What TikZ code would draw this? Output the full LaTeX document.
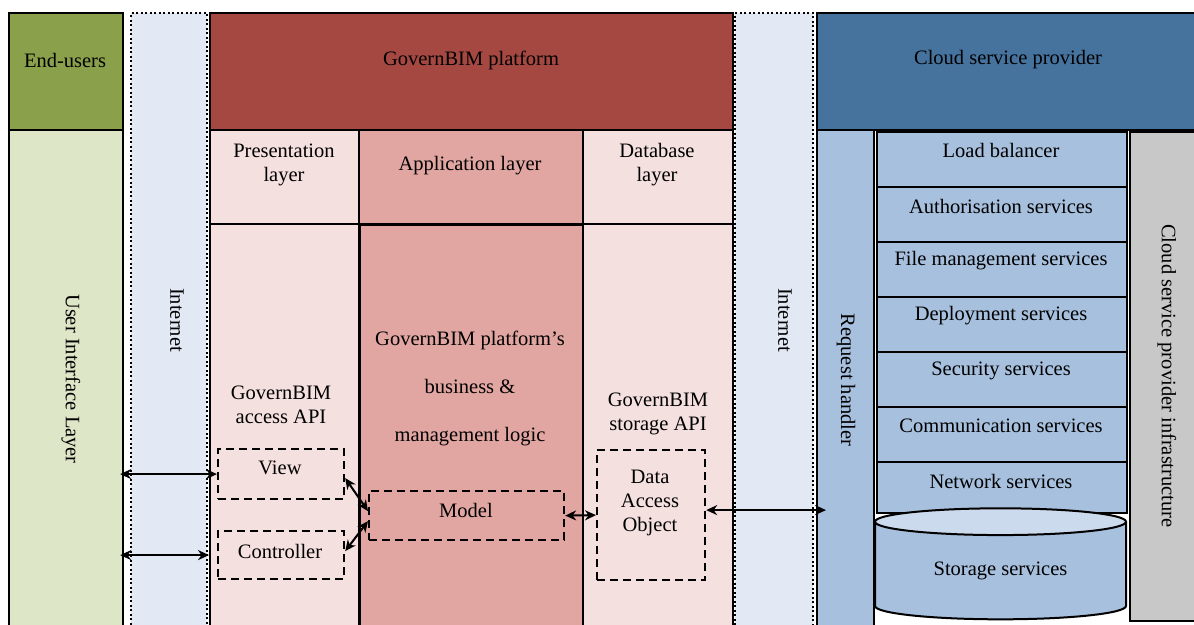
\documentclass[tikz,border=0pt]{standalone}
\usepackage{fontspec}
\setmainfont{Liberation Serif}
\usetikzlibrary{arrows.meta,shapes.geometric}

\definecolor{euGreen}{RGB}{139,160,75}
\definecolor{uiGreen}{RGB}{221,230,199}
\definecolor{netBlue}{RGB}{226,233,244}
\definecolor{platRed}{RGB}{165,72,66}
\definecolor{paleRed}{RGB}{244,224,223}
\definecolor{appRed}{RGB}{226,166,162}
\definecolor{cspBlue}{RGB}{70,114,158}
\definecolor{svcBlue}{RGB}{167,192,222}
\definecolor{svcLight}{RGB}{203,218,236}
\definecolor{infraGray}{RGB}{200,200,200}

\begin{document}
\begin{tikzpicture}[x=1pt,y=-1pt,
	blk/.style={draw, line width=2.2pt, anchor=north west, inner sep=0pt},
	net/.style={draw, line width=2pt, dash pattern=on 2pt off 2.5pt, anchor=north west, inner sep=0pt, fill=netBlue},
	dbox/.style={draw, line width=2.2pt, dash pattern=on 8pt off 5pt, anchor=north west, inner sep=0pt},
	lbl/.style={font=\fontsize{20.5}{24}\selectfont, align=center, inner sep=0pt},
	vlbl/.style={lbl, rotate=-90},
	biarrow/.style={{Stealth[length=11pt,width=10pt]}-{Stealth[length=11pt,width=10pt]}, line width=2pt}]

			\useasboundingbox (0,0) rectangle (1194,624);
			\clip (0,0) rectangle (1194,624);
			\fill[white] (0,0) rectangle (1194,624);

			% end-users side
			\draw (8,12) node [blk, fill=euGreen, minimum width=114, minimum height=117] (eu) {};
			\draw (8,129) node [blk, fill=uiGreen, minimum width=114, minimum height=505] (ui) {};
			\draw (130,12) node [net, minimum width=76, minimum height=620] (netL) {};

			% platform
			\draw (209,12) node [blk, fill=platRed, minimum width=523, minimum height=117] (plat) {};
			\draw (209,223) node [blk, fill=paleRed, minimum width=149, minimum height=410] (presB) {};
			\draw (358,223) node [blk, fill=appRed, line width=2.8pt, minimum width=224, minimum height=410] (appB) {};
			\draw (582,223) node [blk, fill=paleRed, minimum width=150, minimum height=410] (dbB) {};
			\draw (209,129) node [blk, fill=paleRed, minimum width=149, minimum height=94] (presH) {};
			\draw (358,129) node [blk, fill=appRed, minimum width=224, minimum height=94] (appH) {};
			\draw (582,129) node [blk, fill=paleRed, minimum width=150, minimum height=94] (dbH) {};
			\draw (734,12) node [net, minimum width=78, minimum height=620] (netR) {};

			% cloud side
			\draw (816,12) node [blk, fill=cspBlue, minimum width=390, minimum height=117] (csp) {};
			\draw (816,129) node [blk, fill=svcBlue, minimum width=57, minimum height=505] (rh) {};
			\draw (1129,131) node [blk, fill=infraGray, minimum width=75, minimum height=489] (infra) {};
			\draw (876,131) node [blk, fill=svcBlue, minimum width=250, minimum height=55] (lb) {};
			\draw (876,186) node [blk, fill=svcBlue, minimum width=250, minimum height=55] (auth) {};
			\draw (876,241) node [blk, fill=svcBlue, minimum width=250, minimum height=55] (fms) {};
			\draw (876,296) node [blk, fill=svcBlue, minimum width=250, minimum height=55] (dep) {};
			\draw (876,351) node [blk, fill=svcBlue, minimum width=250, minimum height=55] (sec) {};
			\draw (876,406) node [blk, fill=svcBlue, minimum width=250, minimum height=55] (comm) {};
			\draw (876,461) node [blk, fill=svcBlue, minimum width=250, minimum height=51] (nws) {};
			\draw (1000.5,571) node [cylinder, shape border rotate=90, aspect=0.2, draw, line width=2pt, cylinder uses custom fill, cylinder body fill=svcBlue, cylinder end fill=svcLight, minimum width=251, minimum height=111, inner sep=0pt, font=\fontsize{20.5}{24}\selectfont] (stor) {Storage services};

			% dashed components
			\draw (217,448) node [dbox, minimum width=126, minimum height=50] (view) {};
			\draw (217,530) node [dbox, minimum width=126, minimum height=48] (ctrl) {};
			\draw (368,490) node [dbox, minimum width=195, minimum height=49] (model) {};
			\draw (596,449) node [dbox, minimum width=108, minimum height=130] (dao) {};

			% labels
			\draw (65,60) node [lbl] (t-eu) {End-users};
			\draw (71,379) node [vlbl] (t-ui) {User Interface Layer};
			\draw (177,320) node [vlbl] (t-netL) {Internet};
			\draw (471,60) node [lbl] (t-plat) {GovernBIM platform};
			\draw (284,165) node [lbl] (t-presH) {Presentation\\layer};
			\draw (470,166) node [lbl] (t-appH) {Application layer};
			\draw (657,165) node [lbl] (t-dbH) {Database\\layer};
			\draw (281,405) node [lbl] (t-acc) {GovernBIM\\access API};
			\draw (470,388) node [lbl] (t-logic) {GovernBIM platform's\\[24pt]business \&\\[24pt]management logic};
			\draw (658,414) node [lbl] (t-sto) {GovernBIM\\storage API};
			\draw (280,468) node [lbl] (t-view) {View};
			\draw (280,551) node [lbl] (t-ctrl) {Controller};
			\draw (466,510) node [lbl] (t-model) {Model};
			\draw (650,503) node [lbl] (t-dao) {Data\\Access\\Object};
			\draw (785,320) node [vlbl] (t-netR) {Internet};
			\draw (1008,60) node [lbl] (t-csp) {Cloud service provider};
			\draw (846,380) node [vlbl] (t-rh) {Request handler};
			\draw (1167,376) node [vlbl] (t-infra) {Cloud service provider infrastructure};
			\draw (1001,150) node [lbl] (t-lb) {Load balancer};
			\draw (1001,206) node [lbl] (t-auth) {Authorisation services};
			\draw (1001,261) node [lbl] (t-fms) {File management services};
			\draw (1001,316) node [lbl] (t-dep) {Deployment services};
			\draw (1001,371) node [lbl] (t-sec) {Security services};
			\draw (1001,426) node [lbl] (t-comm) {Communication services};
			\draw (1001,481) node [lbl] (t-nws) {Network services};

			% connectors
			\draw [biarrow] ([xshift=-4pt]ui.east |- view.west) -- (view.west);
			\draw [biarrow] ([xshift=-4pt]ui.east |- ctrl.west) -- ([xshift=-8pt]ctrl.west);
			\draw [biarrow] ([yshift=-4pt]view.east) -- ([yshift=4.5pt]model.west);
			\draw [biarrow] ([yshift=4pt]ctrl.east) -- ([yshift=-5.5pt]model.west);
			\draw [biarrow] (model.east) -- (dao.west);
			\draw [biarrow] ([yshift=5pt]dao.east) -- ([yshift=5pt]dao.east -| rh.west) -- ++(10,0);
\end{tikzpicture}
\end{document}
